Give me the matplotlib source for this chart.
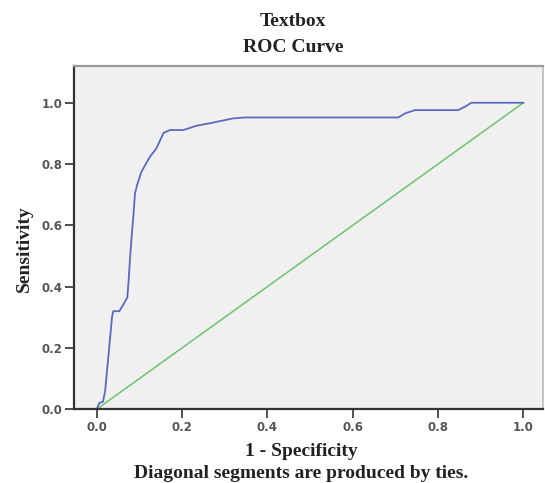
import matplotlib
matplotlib.use("Agg")
import matplotlib.pyplot as plt

# ROC curve points (1 - specificity, sensitivity)
fpr = [0.0, 0.006, 0.015, 0.020, 0.028, 0.036, 0.039, 0.053, 0.062, 0.072,
       0.075, 0.078, 0.082, 0.086, 0.090, 0.095, 0.105, 0.125, 0.140, 0.157,
       0.172, 0.203, 0.234, 0.265, 0.320, 0.347, 0.707, 0.722, 0.746, 0.847,
       0.863, 0.878, 1.0]
tpr = [0.0, 0.020, 0.025, 0.060, 0.180, 0.300, 0.320, 0.320, 0.340, 0.365,
       0.420, 0.487, 0.563, 0.628, 0.705, 0.732, 0.775, 0.824, 0.851, 0.902,
       0.911, 0.911, 0.925, 0.933, 0.949, 0.952, 0.952, 0.965, 0.976, 0.976,
       0.987, 1.0, 1.0]
ref_x = [0.0, 1.0]
ref_y = [0.0, 1.0]
xticks = [0.0, 0.2, 0.4, 0.6, 0.8, 1.0]
yticks = [0.0, 0.2, 0.4, 0.6, 0.8, 1.0]

fig = plt.figure(figsize=(5.45, 4.83), dpi=100)
ax = fig.add_axes([0.1358, 0.1526, 0.9963 - 0.1358, 0.8634 - 0.1526])
ax.set_facecolor("#f0f0f0")

ax.plot(ref_x, ref_y, color="#6cc46c", lw=1.1)
ax.plot(fpr, tpr, color="#5a6ac0", lw=1.3)

ax.set_xlim(-0.053, 1.046)
ax.set_ylim(0.0, 1.12)
ax.set_xticks(xticks)
ax.set_yticks(yticks)
ax.set_xticklabels([f"{v:.1f}" for v in xticks])
ax.set_yticklabels([f"{v:.1f}" for v in yticks])
ax.tick_params(axis="both", direction="out", length=6.5, width=1.2,
               color="#333333", labelsize=8.5, labelcolor="#555555", pad=2)
for lab in ax.get_xticklabels() + ax.get_yticklabels():
    lab.set_fontweight("bold")
    lab.set_family("DejaVu Sans")

ax.spines["left"].set_color("#333333")
ax.spines["left"].set_linewidth(1.6)
ax.spines["bottom"].set_color("#333333")
ax.spines["bottom"].set_linewidth(1.6)
ax.spines["top"].set_color("#999999")
ax.spines["top"].set_linewidth(1.6)
ax.spines["right"].set_color("#bbbbbb")
ax.spines["right"].set_linewidth(1.2)

serif = dict(family="Liberation Serif", fontweight="bold", color="#222222")
fs = 14
fig.text(0.538, 1 - 22 / 483, "Textbox", ha="center", va="center", fontsize=fs, **serif)
fig.text(0.538, 1 - 47 / 483, "ROC Curve", ha="center", va="center", fontsize=fs, **serif)
fig.text(0.552, 1 - 451 / 483, "1 - Specificity", ha="center", va="center", fontsize=fs, **serif)
fig.text(0.552, 1 - 474 / 483, "Diagonal segments are produced by ties.", ha="center",
         va="center", fontsize=fs, **serif)
fig.text(24 / 545, 1 - 249 / 483, "Sensitivity", ha="center", va="center",
         rotation=90, fontsize=fs, **serif)

fig.savefig("out.png", dpi=100)
